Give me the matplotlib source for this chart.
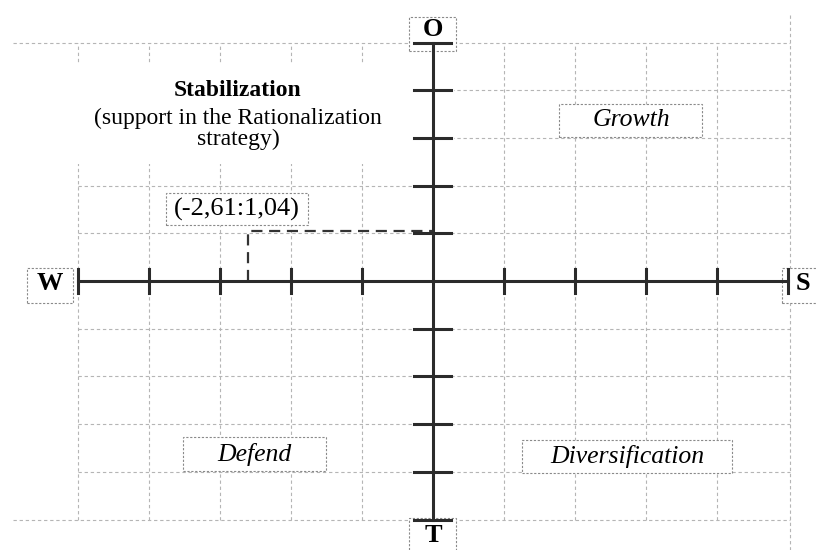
import matplotlib
matplotlib.use("Agg")
import matplotlib.pyplot as plt
from matplotlib.patches import Rectangle

# axis range and the strategic position
TICKS = [-5, -4, -3, -2, -1, 0, 1, 2, 3, 4, 5]
POINT_X = -2.61
POINT_Y = 1.04
POINT_LABEL = "(-2,61:1,04)"

AXIS_NAMES = ["O", "T", "W", "S"]
QUADRANT_NAMES = ["Growth", "Defend", "Diversification"]
STAB_TITLE = "Stabilization"
STAB_TEXT = "(support in the Rationalization\nstrategy)"

FONT = "Liberation Serif"
AXIS_COLOR = "#2b2b2b"
GRID_COLOR = "#b5b5b5"
BOX_COLOR = "#8a8a8a"

fig = plt.figure(figsize=(8.17, 5.5), dpi=100)
ax = fig.add_axes([0, 0, 1, 1])
# 71 px per unit horizontally, 47.7 px per unit vertically
ax.set_xlim(-5 - 78 / 71, 5 + 29 / 71)
ax.set_ylim(-(550 - 281) / 47.7, 281 / 47.7)
ax.axis("off")


def px(x, y):
    """pixel position -> data position (layout helper)"""
    return (x - 433) / 71, (281 - y) / 47.7


def boxed(cx, cy, w, h, text, box_z=5, dy=0, **kw):
    x0, y1 = px(cx - w / 2, cy - h / 2)
    x1, y0 = px(cx + w / 2, cy + h / 2)
    ax.add_patch(Rectangle((x0, y0), x1 - x0, y1 - y0, facecolor="white",
                           edgecolor=BOX_COLOR, lw=0.8, ls=(0, (2, 1.5)),
                           zorder=box_z))
    tx, ty = px(cx, cy + dy)
    ax.text(tx, ty, text, family=FONT, ha="center", va="center", zorder=6, **kw)


grid_kw = dict(color=GRID_COLOR, lw=0.8, ls=(0, (3, 2.5)), zorder=1)

# vertical grid lines
for t in TICKS:
    if t == 5:
        ax.plot([t + 0.03, t + 0.03], [-5.63, 5.6], **grid_kw)
    elif t != 0:
        ax.plot([t, t], [-5, 5], **grid_kw)
# horizontal grid lines
for t in TICKS:
    if abs(t) == 5:
        ax.plot([-5.92, 5.03], [t, t], **grid_kw)
    elif t != 0:
        ax.plot([-5, 5.03], [t, t], **grid_kw)

# white area behind the Stabilization text
ax.add_patch(Rectangle((-5.05, 2.45), 5.35, 2.1, facecolor="white",
                       edgecolor="none", zorder=2))

# main axes
ax.plot([-5, 5], [0, 0], color=AXIS_COLOR, lw=2.2, zorder=4)
ax.plot([0, 0], [-5, 5], color=AXIS_COLOR, lw=2.2, zorder=4)
for t in TICKS:
    if t != 0:
        ax.plot([t, t], [-0.25, 0.25], color=AXIS_COLOR, lw=2.2, zorder=4)
        ax.plot([-0.27, 0.26], [t, t], color=AXIS_COLOR, lw=2.2, zorder=4)

# dashed projection of the point
ax.plot([POINT_X, POINT_X, 0], [0, POINT_Y, POINT_Y], color="#333333",
        lw=1.6, ls=(0, (5, 3)), zorder=3)

# axis end labels (boxes sit under the axis ends)
label_boxes = [(433, 34, 47, 34, -4), (433, 536, 47, 36, 0),
               (50, 285, 46, 35, -2), (803, 285, 42, 35, -2)]
for lab, (cx, cy, w, h, dy) in zip(AXIS_NAMES, label_boxes):
    boxed(cx, cy, w, h, lab, box_z=3.5, dy=dy, weight="bold", fontsize=19)

boxed(237, 209, 142, 32, POINT_LABEL, fontsize=19)

quad_boxes = [(631, 120, 143, 33), (254, 454, 143, 34), (627, 456, 210, 33)]
for name, (cx, cy, w, h) in zip(QUADRANT_NAMES, quad_boxes):
    boxed(cx, cy, w, h, name, style="italic", fontsize=18.5)

sx, sy = px(238, 91)
ax.text(sx, sy, STAB_TITLE, family=FONT, weight="bold", fontsize=17,
        ha="center", va="center", zorder=6)
sx, sy = px(238, 129)
ax.text(sx, sy, STAB_TEXT, family=FONT, fontsize=17,
        ha="center", va="center", linespacing=0.95, zorder=6)

fig.savefig("out.png", dpi=100)
